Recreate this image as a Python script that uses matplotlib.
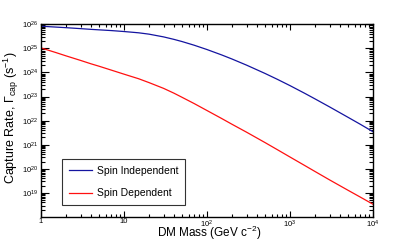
import numpy as np
import matplotlib
matplotlib.use("Agg")
import matplotlib.pyplot as plt
from matplotlib.ticker import LogLocator, FixedLocator, FuncFormatter, NullFormatter

plt.rcParams['font.family'] = ['Liberation Sans', 'DejaVu Sans']

# Data
mass = [1, 1.5, 2, 3, 4, 5, 7, 10, 15, 20, 30, 40, 50, 70, 100, 150, 200, 300,
        500, 700, 1000, 1500, 2000, 3000, 5000, 7000, 10000]
log_si = [25.92, 25.885, 25.86, 25.82, 25.79, 25.77, 25.74, 25.70, 25.647, 25.591,
          25.477, 25.374, 25.284, 25.132, 24.952, 24.729, 24.559, 24.304, 23.96, 23.72,
          23.454, 23.137, 22.904, 22.57, 22.139, 21.853, 21.54]
log_sd = [25.02, 24.83, 24.69, 24.50, 24.36, 24.26, 24.10, 23.93, 23.74, 23.58,
          23.34, 23.14, 22.97, 22.71, 22.42, 22.09, 21.85, 21.52, 21.09, 20.80,
          20.49, 20.14, 19.89, 19.54, 19.11, 18.83, 18.53]
rate_si = [10 ** v for v in log_si]
rate_sd = [10 ** v for v in log_sd]
series_labels = ["Spin Independent", "Spin Dependent"]
x_ticks = [1, 10, 100, 1000, 10000]
y_ticks = [1e19, 1e20, 1e21, 1e22, 1e23, 1e24, 1e25, 1e26]

W, H = 415, 242
fig = plt.figure(figsize=(W / 100, H / 100), dpi=100)
ax = fig.add_axes([41 / W, 1 - 217 / H, (373 - 41) / W, (217 - 24.3) / H])

ax.plot(mass, rate_si, color="#1414a0", lw=0.9, label=series_labels[0])
ax.plot(mass, rate_sd, color="#ff1010", lw=0.9, label=series_labels[1])

ax.set_xscale("log")
ax.set_yscale("log")
ax.set_xlim(1, 1e4)
ax.set_ylim(1e18, 1e26)

def fmt(v, pos):
    e = int(round(np.log10(v)))
    if e == 0:
        return "1"
    if e == 1:
        return "10"
    return r"$\mathregular{10^{%d}}$" % e

ax.xaxis.set_major_locator(FixedLocator(x_ticks))
ax.yaxis.set_major_locator(FixedLocator(y_ticks))
ax.xaxis.set_major_formatter(FuncFormatter(fmt))
ax.yaxis.set_major_formatter(FuncFormatter(fmt))
ax.xaxis.set_minor_locator(LogLocator(base=10, subs=np.arange(2, 10), numticks=100))
ax.yaxis.set_minor_locator(LogLocator(base=10, subs=np.arange(2, 10), numticks=100))
ax.xaxis.set_minor_formatter(NullFormatter())
ax.yaxis.set_minor_formatter(NullFormatter())

ax.tick_params(axis="both", which="both", direction="in", top=True, right=True,
               labelsize=5.5, width=0.8, color="black")
ax.tick_params(axis="x", which="major", length=4, pad=1)
ax.tick_params(axis="x", which="minor", length=2.3)
ax.tick_params(axis="y", which="major", length=5.5, pad=2)
ax.tick_params(axis="y", which="minor", length=3.2)

for s in ax.spines.values():
    s.set_linewidth(1.0)
    s.set_color("black")

ax.set_xlabel(r"DM Mass (GeV c$\mathregular{^{-2}}$)", fontsize=8.5, va="bottom")
ax.set_ylabel(r"Capture Rate, Γ$\mathregular{_{cap}}$ (s$\mathregular{^{-1}}$)", fontsize=9)
ax.xaxis.set_label_coords(0.506, (217 - 241.6) / 192.7)
ax.yaxis.set_label_coords(-0.06, 0.516)

leg = ax.legend(loc="lower left", bbox_to_anchor=((62 - 41) / 332, (217 - 205) / 192.7),
                fontsize=7.5, frameon=True, fancybox=False, borderpad=0.65,
                labelspacing=1.2, handlelength=2.2, handletextpad=0.5,
                borderaxespad=0)
leg.get_frame().set_edgecolor("black")
leg.get_frame().set_linewidth(0.8)

fig.savefig("out.png", dpi=100)
